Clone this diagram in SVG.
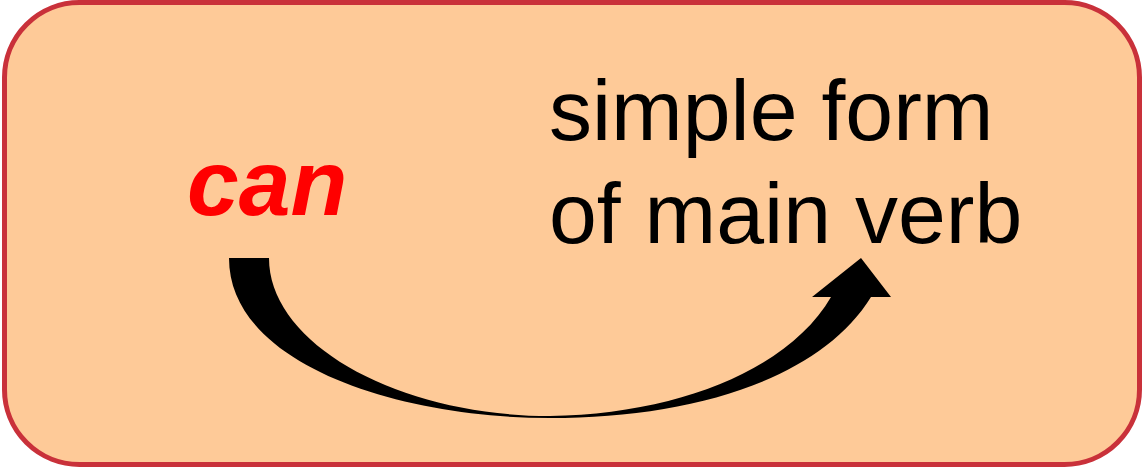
<svg xmlns="http://www.w3.org/2000/svg" width="1142" height="467" viewBox="0 0 1142 467">
<style>
.box{fill:#FECA98;stroke:#C9313A;stroke-width:5}
.kw{font-family:"Liberation Sans",Arial,sans-serif;font-weight:bold;font-style:italic;font-size:93px;fill:#FF0000}
.lbl{font-family:"Liberation Sans",Arial,sans-serif;font-size:86px;fill:#000000}
</style>
<g id="box">
<rect class="box" x="4.5" y="2.5" width="1135" height="462" rx="75" ry="75"/>
</g>
<g id="can">
<text class="kw" x="187" y="215">can</text>
</g>
<g id="target">
<text class="lbl" x="549" y="140">simple form</text>
<text class="lbl" x="549" y="243">of main verb</text>
</g>
<g id="connectors">
<path d="M229,258 C229,365 400,418 550,418 C690,418 820,380 871,297 L891,297 L861,258 L812,297 L831,297 C790,368 680,414 550,416 C400,416 269,345 269,258 Z" fill="#000"/>
</g>
</svg>
